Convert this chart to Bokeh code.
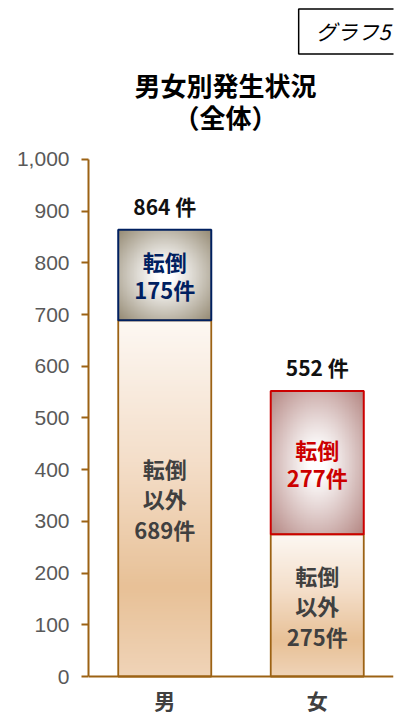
import numpy as np
from bokeh.plotting import figure
from bokeh.models import (ColumnDataSource, Range1d, FactorRange, FixedTicker,
                          NumeralTickFormatter, Label)
from bokeh.core.properties import value
from bokeh.embed import file_html
from bokeh.resources import INLINE

# ---------------- data ----------------
categories = ["男", "女"]
other_counts = [689, 275]      # 転倒以外
fall_counts = [175, 277]       # 転倒
y_ticks = [0, 100, 200, 300, 400, 500, 600, 700, 800, 900, 1000]
title_lines = ["男女別発生状況", "（全体）"]
badge_text = "グラフ5"

# ---------------- style ----------------
BROWN = "#9c6214"
NAVY = "#002060"
RED = "#cc0000"
JP = "Noto Sans CJK JP"
bar_width = 0.61

totals = [o + f for o, f in zip(other_counts, fall_counts)]
n = len(categories)
centers = [i + 0.5 for i in range(n)]


def pack(rgb):
    ny, nx, _ = rgb.shape
    img = np.empty((ny, nx), dtype=np.uint32)
    v = img.view(dtype=np.uint8).reshape((ny, nx, 4))
    v[..., :3] = np.clip(rgb, 0, 255).astype(np.uint8)
    v[..., 3] = 255
    return img


def linear_grad(stops, ny=300, nx=40):
    pos = [s[0] for s in stops]
    cols = np.array([s[1] for s in stops], dtype=float)
    rows = np.arange(ny)
    t_top = 1.0 - rows / (ny - 1)          # row 0 = bottom of image
    rgb = np.stack([np.interp(t_top, pos, cols[:, c]) for c in range(3)], axis=-1)
    rgb = np.repeat(rgb[:, None, :], nx, axis=1)
    return pack(rgb)


def radial_grad(edge, ny=200, nx=120):
    yy, xx = np.meshgrid(np.linspace(-1, 1, ny), np.linspace(-1, 1, nx), indexing="ij")
    d = np.sqrt(xx ** 2 + yy ** 2) / np.sqrt(2)
    f = np.clip((d - 0.12) / 0.88, 0, 1) ** 1.1
    edge = np.array(edge, dtype=float)
    rgb = 255 + f[..., None] * (edge - 255)
    return pack(rgb)


other_img = linear_grad([(0.0, (253, 248, 243)), (0.4, (244, 222, 201)),
                         (0.75, (232, 193, 151)), (1.0, (240, 212, 184))])
fall_imgs = [radial_grad((148, 137, 114)), radial_grad((180, 134, 130))]

# frame spans the whole canvas height; x axis pinned at y = 0
p = figure(x_range=FactorRange(factors=categories), y_range=Range1d(-79.3, 1307.5),
           width=408, height=717, output_backend="svg", toolbar_location=None,
           min_border_left=88, min_border_right=15, min_border_top=0, min_border_bottom=0,
           outline_line_color=None, background_fill_color="white", border_fill_color="white")
p.xgrid.grid_line_color = None
p.ygrid.grid_line_color = None

# gradient fills
p.image_rgba(image=[other_img] * n, x=[c - bar_width / 2 for c in centers], y=[0] * n,
             dw=[bar_width] * n, dh=other_counts)
p.image_rgba(image=fall_imgs, x=[c - bar_width / 2 for c in centers], y=other_counts,
             dw=[bar_width] * n, dh=fall_counts)

# bar outlines
p.vbar(x=categories, bottom=0, top=other_counts, width=bar_width,
       fill_color=None, line_color=BROWN, line_width=1.8)
p.vbar(x=categories, bottom=other_counts, top=totals, width=bar_width,
       fill_color=None, line_color=[NAVY, RED], line_width=2)

# labels inside bars
src_other = ColumnDataSource(dict(x=categories, y=[o / 2 for o in other_counts],
                                  t=[f"転倒\n以外\n{o}件" for o in other_counts]))
p.text(x="x", y="y", text="t", source=src_other, text_align="center", text_baseline="middle",
       text_font=value(JP), text_font_style="bold", text_font_size="22px",
       text_color="#404040", text_line_height=0.95)

src_fall = ColumnDataSource(dict(x=categories, y=[o + f / 2 for o, f in zip(other_counts, fall_counts)],
                                 t=[f"転倒\n{f}件" for f in fall_counts], c=[NAVY, RED]))
p.text(x="x", y="y", text="t", source=src_fall, text_align="center", text_baseline="middle",
       text_font=value(JP), text_font_style="bold", text_font_size="22px",
       text_color="c", text_line_height=0.87)

src_tot = ColumnDataSource(dict(x=categories, y=totals, t=[f"{t} 件" for t in totals]))
p.text(x="x", y="y", text="t", source=src_tot, text_align="center", text_baseline="bottom",
       y_offset=-9, text_font=value(JP), text_font_style="bold", text_font_size="21px",
       text_color="#111111")

# axes
ya = p.yaxis[0]
ya.bounds = (0, 1000)
ya.ticker = FixedTicker(ticks=y_ticks, minor_ticks=[])
ya.formatter = NumeralTickFormatter(format="0,0")
ya.axis_line_color = BROWN
ya.axis_line_width = 2
ya.major_tick_line_color = BROWN
ya.major_tick_line_width = 2
ya.major_tick_in = 0
ya.major_tick_out = 7
ya.minor_tick_line_color = None
ya.major_label_standoff = 12
ya.major_label_text_font = "Liberation Sans"
ya.major_label_text_font_size = "21px"
ya.major_label_text_color = "#595959"

xa = p.xaxis[0]
xa.fixed_location = 0
xa.axis_line_color = BROWN
xa.axis_line_width = 2
xa.major_tick_line_color = None
xa.minor_tick_line_color = None
xa.major_tick_in = 0
xa.major_tick_out = 0
xa.major_label_standoff = 8
xa.major_label_text_font = JP
xa.major_label_text_font_style = "bold"
xa.major_label_text_font_size = "21px"
xa.major_label_text_color = "#404040"

# title and badge (screen units relative to the frame's bottom-left corner)
p.add_layout(Label(x=137, y=633, x_units="screen", y_units="screen", text=title_lines[0],
                   text_align="center", text_baseline="middle", text_font=JP,
                   text_font_style="bold", text_font_size="26px", text_color="#000000"))
p.add_layout(Label(x=137, y=601, x_units="screen", y_units="screen", text=title_lines[1],
                   text_align="center", text_baseline="middle", text_font=JP,
                   text_font_style="bold", text_font_size="26px", text_color="#000000"))
p.add_layout(Label(x=264, y=686, x_units="screen", y_units="screen", text=badge_text,
                   text_align="center", text_baseline="middle", text_font=JP,
                   text_font_style="italic", text_font_size="21px", text_color="#000000",
                   border_line_color="#000000", border_line_width=1.5,
                   background_fill_color="white", padding=(17, 16, 7, 8)))

open("out.html", "w").write(file_html(p, INLINE))
